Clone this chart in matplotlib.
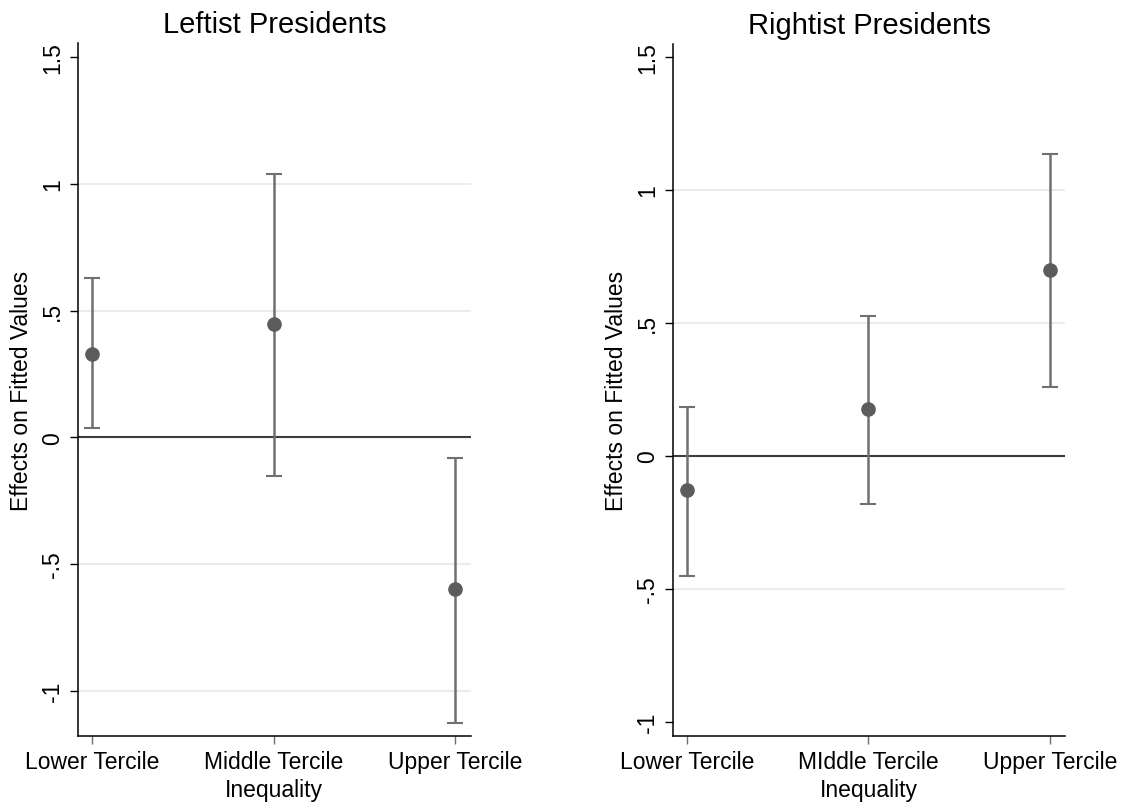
import matplotlib

matplotlib.use("Agg")
import matplotlib.pyplot as plt
import numpy as np

plt.rcParams["font.family"] = ["Liberation Sans", "DejaVu Sans"]

categories = ["Lower Tercile", "Middle Tercile", "Upper Tercile"]
categories_right = ["Lower Tercile", "MIddle Tercile", "Upper Tercile"]

left_est = [0.33, 0.445, -0.60]
left_lo = [0.035, -0.152, -1.125]
left_hi = [0.627, 1.04, -0.08]

right_est = [-0.13, 0.175, 0.70]
right_lo = [-0.45, -0.18, 0.26]
right_hi = [0.183, 0.527, 1.133]

yticks = [-1, -0.5, 0, 0.5, 1, 1.5]
ytick_labels = ["-1", "-.5", "0", ".5", "1", "1.5"]

BAR = "#707070"
DOT = "#5c5c5c"
GRID = "#e8e8e8"


def panel(ax, est, lo, hi, labels, title, ylim, grid_at):
    x = np.arange(1, len(est) + 1)
    est = np.asarray(est)
    err = [est - np.asarray(lo), np.asarray(hi) - est]
    for g in grid_at:
        ax.axhline(g, color=GRID, lw=1.2, zorder=0)
    ax.axhline(0, color="#3c3c3c", lw=1.5, zorder=1)
    ax.errorbar(x, est, yerr=err, fmt="o", color=DOT, ms=9.5,
                ecolor=BAR, elinewidth=1.8, capsize=5.5, capthick=1.5, zorder=3)
    ax.set_xlim(0.923, 3.085)
    ax.set_ylim(*ylim)
    ax.set_xticks(x)
    ax.set_xticklabels(labels, fontsize=16.5)
    ax.set_yticks(yticks)
    ax.set_yticklabels(ytick_labels, fontsize=16.5, rotation=90, va="center")
    ax.set_xlabel("Inequality", fontsize=16.5, labelpad=4)
    ax.set_ylabel("Effects on Fitted Values", fontsize=16.5, labelpad=6)
    ax.set_title(title, fontsize=21, pad=8)
    for s in ("top", "right"):
        ax.spines[s].set_visible(False)
    for s in ("left", "bottom"):
        ax.spines[s].set_linewidth(1.1)
    ax.tick_params(direction="out", length=6, width=1.0, pad=4, colors="#000000")
    ax.tick_params(axis="x", colors="#707070", labelcolor="#000000")


fig = plt.figure(figsize=(11.25, 8.03), dpi=100)
ax1 = fig.add_axes([0.0693, 0.0822, 0.349, 0.863])
ax2 = fig.add_axes([0.598, 0.0822, 0.349, 0.862])

panel(ax1, left_est, left_lo, left_hi, categories, "Leftist Presidents",
      (-1.178, 1.555), [-1, -0.5, 0.5, 1])
panel(ax2, right_est, right_lo, right_hi, categories_right, "Rightist Presidents",
      (-1.053, 1.549), [-0.5, 0.5, 1])

fig.savefig("out.png", dpi=100)
